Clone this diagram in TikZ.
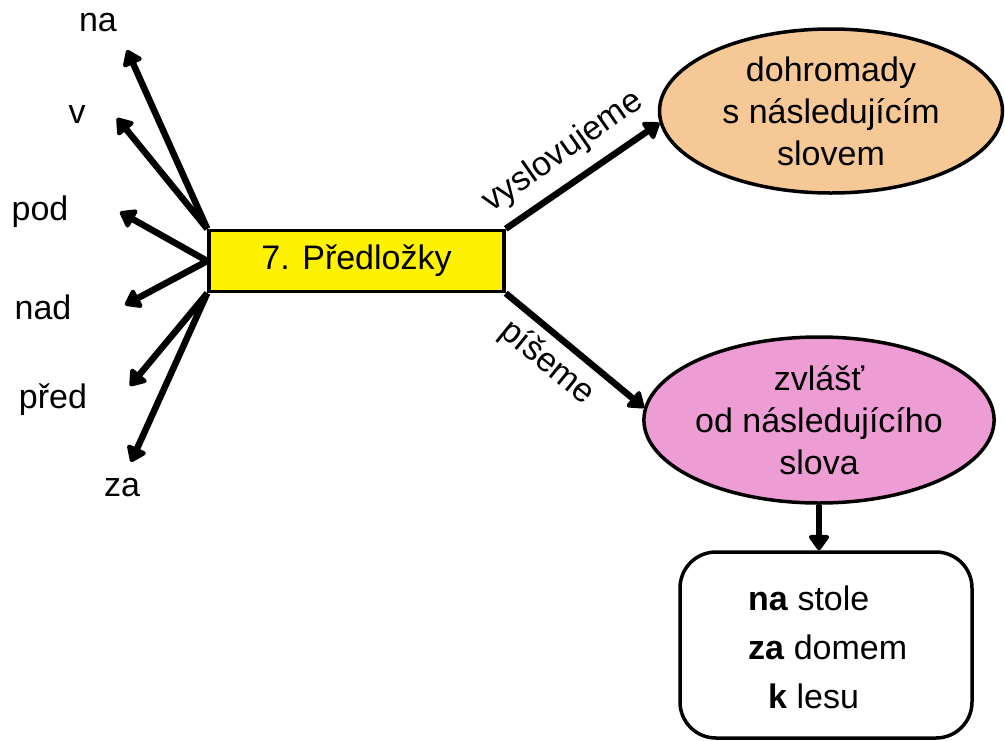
\documentclass[tikz,border=0pt]{standalone}
\usepackage{fontspec}
\setmainfont{Liberation Sans}
\usetikzlibrary{arrows.meta,shapes.geometric}
\definecolor{peach}{HTML}{F6C896}
\definecolor{pinkfill}{HTML}{EE9DD4}
\begin{document}
\begin{tikzpicture}[x=1pt,y=-1pt,
  every node/.style={font=\fontsize{34}{42}\selectfont, inner sep=0pt},
  arr/.style={line width=6.5pt, -{Triangle[length=17pt,width=23pt,round]}},
  lbl/.style={text=black},
  oval/.style={ellipse, draw, line width=3.5pt, align=center},
]
\useasboundingbox (0,0) rectangle (1005,740);

% central box
\node[draw, line width=3.5pt, fill=yellow, minimum width=295pt, minimum height=61pt] (P) at (356.5,261) {7. Předložky};

% ellipses
\node[oval, fill=peach, minimum width=343pt, minimum height=164pt] (O) at (831,111) {dohromady\\s následujícím\\slovem};
\node[oval, fill=pinkfill, minimum width=346pt, minimum height=166pt] (K) at (819,420) {zvlášť\\od následujícího\\slova};

% example box
\node[draw, line width=3.5pt, rounded corners=36pt, minimum width=292pt, minimum height=186pt] (B) at (826,645) {};
\node[anchor=base west] (b1) at (748,610) {\textbf{na} stole};
\node[anchor=base west] (b2) at (748,659) {\textbf{za} domem};
\node[anchor=base west] (b3) at (768,708) {\textbf{k} lesu};

% left arrow tips
\coordinate (tna) at (127,50);
\coordinate (tv) at (117,118);
\coordinate (tpod) at (120,212);
\coordinate (tnad) at (125,305);
\coordinate (tpred) at (130,386);
\coordinate (tza) at (131,462);

\draw[arr] (P.north west) -- (tna);
\draw[arr] (P.north west) -- (tv);
\draw[arr] (P.west) -- (tpod);
\draw[arr] (P.west) -- (tnad);
\draw[arr] (P.south west) -- (tpred);
\draw[arr] (P.south west) -- (tza);

% left labels
\node[lbl] (lna) at (98,23) {na};
\node[lbl] (lv) at (77,115) {v};
\node[lbl] (lpod) at (40,212) {pod};
\node[lbl] (lnad) at (43,307) {nad};
\node[lbl] (lpred) at (53,400) {před};
\node[lbl] (lza) at (122,488) {za};

% right arrows
\draw[arr] (P.north east) -- (O.184);
\draw[arr] (P.south east) -- (K.176);
\draw[arr] (K.south) -- (K.south |- B.north);

% arrow labels
\node[rotate=35] (vys) at (563,152) {vyslovujeme};
\node[rotate=-39] (pis) at (547,363) {píšeme};
\end{tikzpicture}
\end{document}
